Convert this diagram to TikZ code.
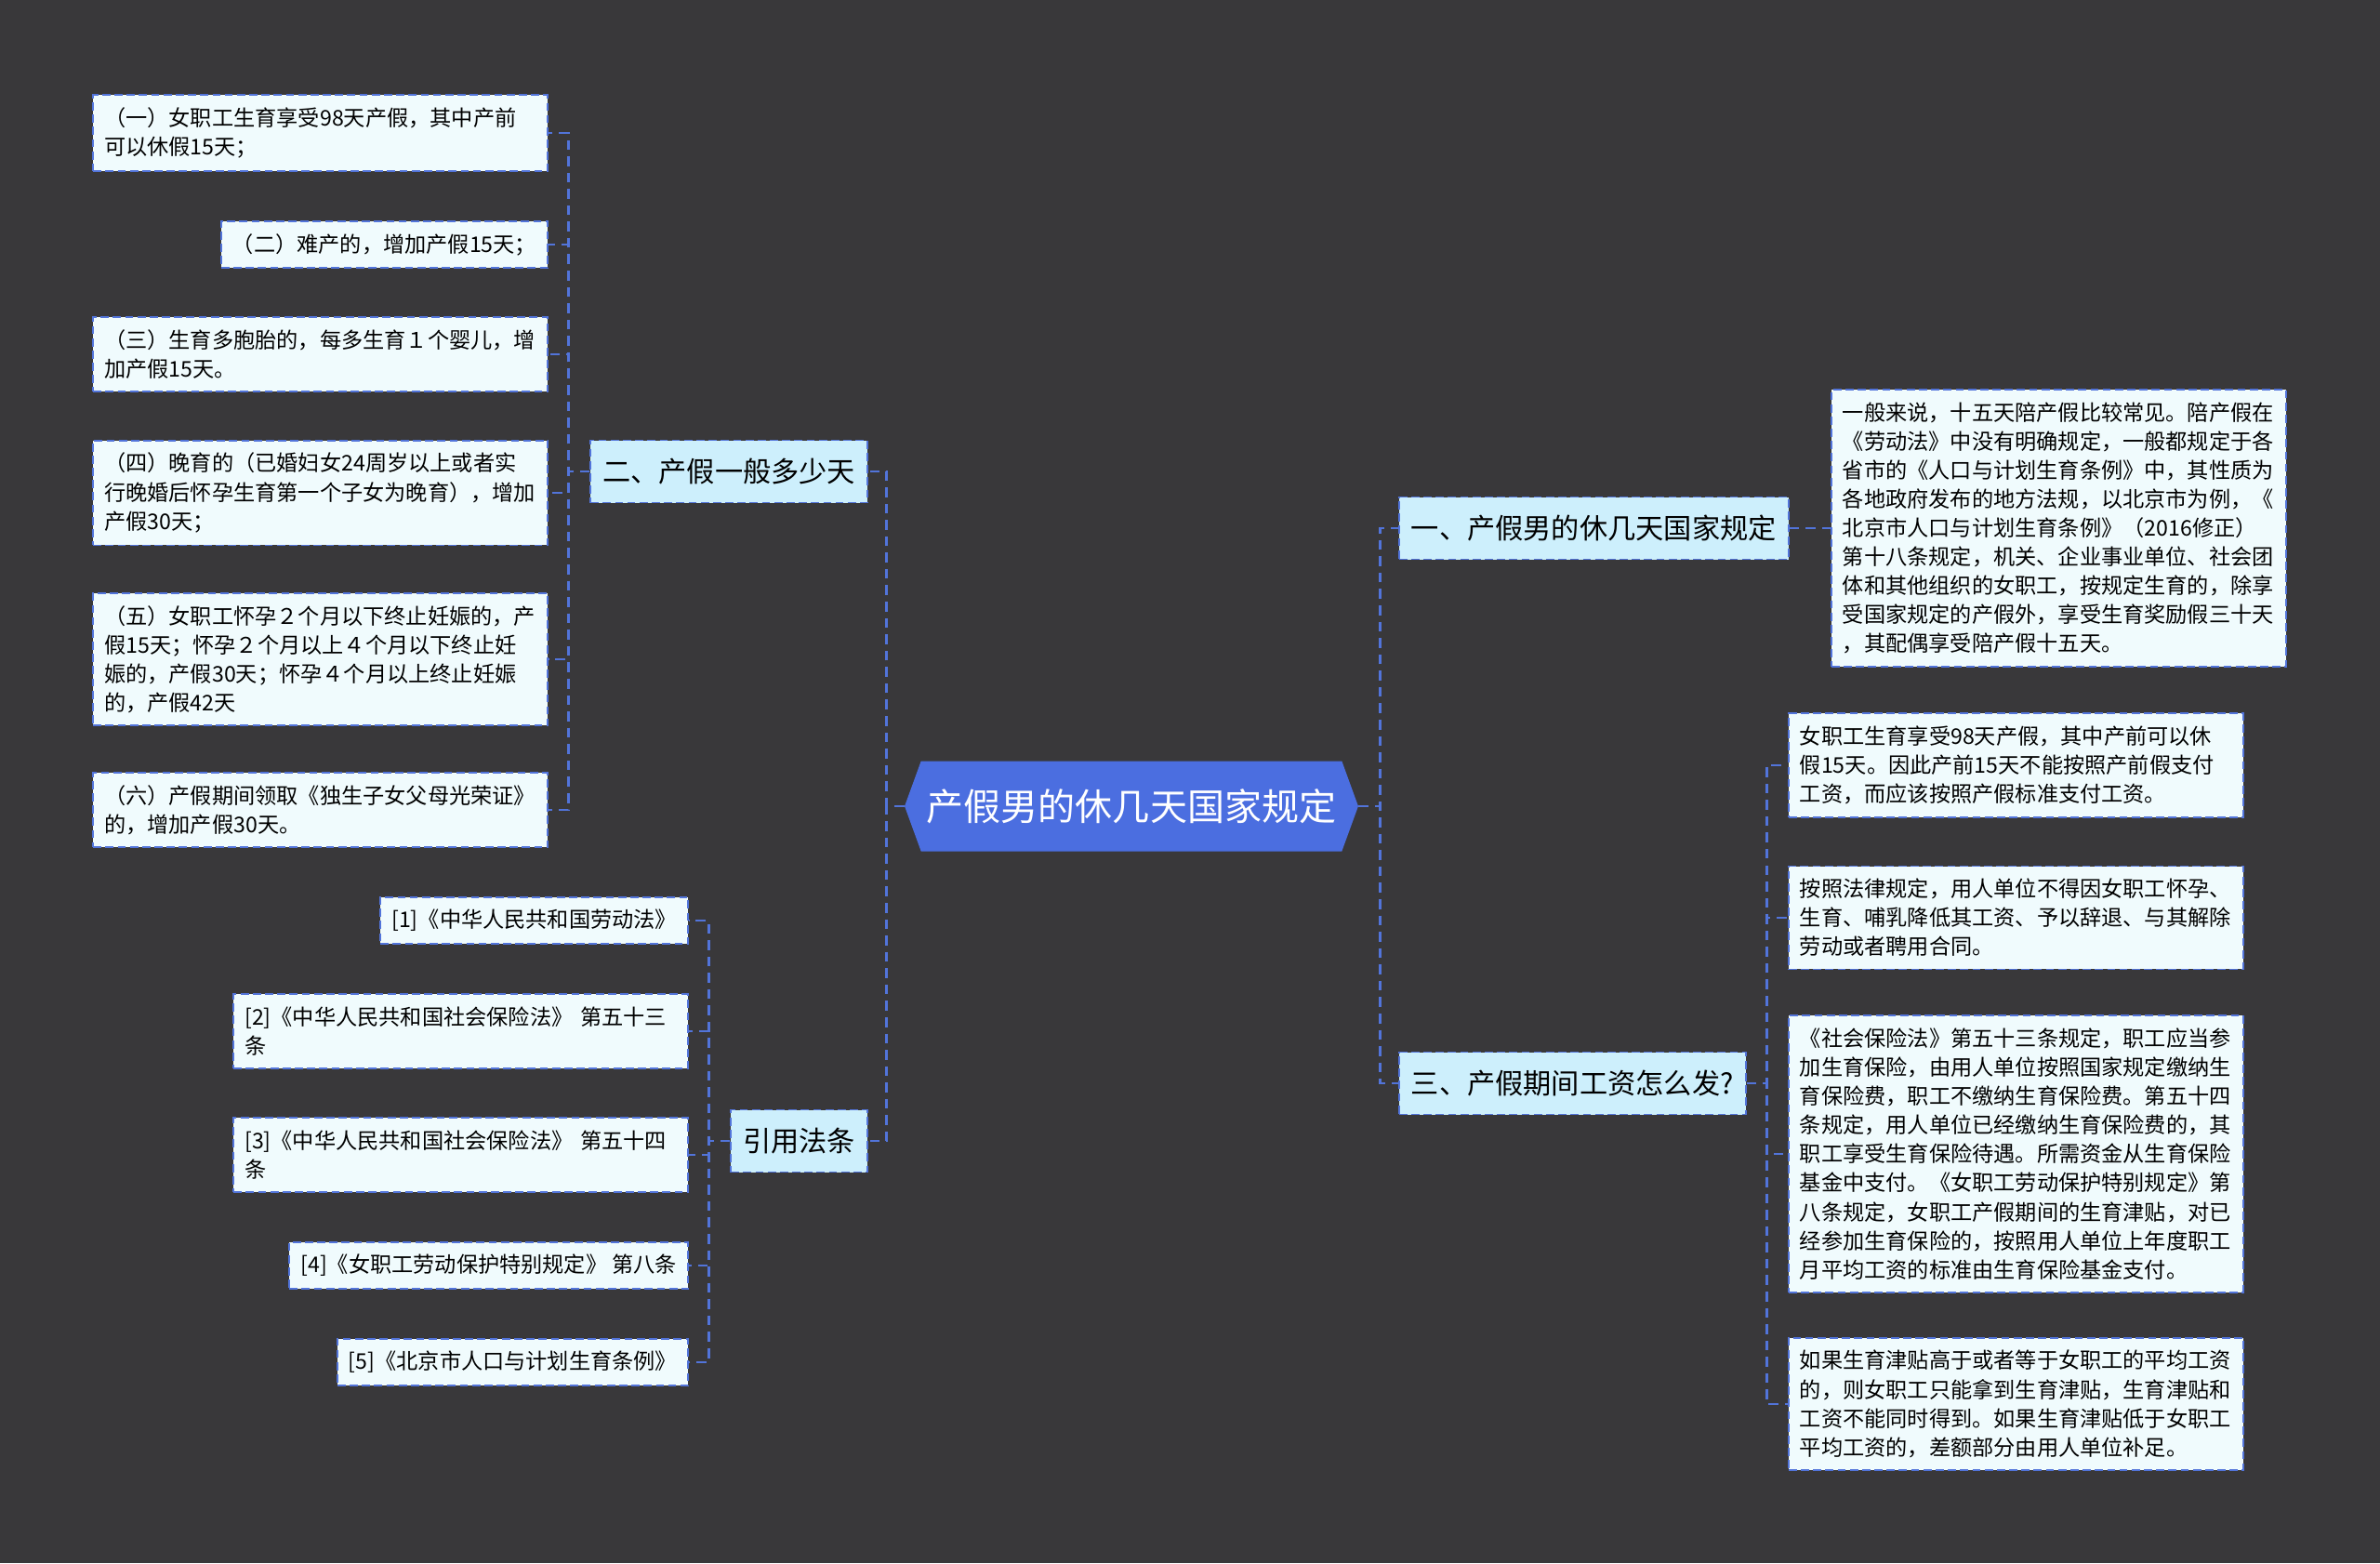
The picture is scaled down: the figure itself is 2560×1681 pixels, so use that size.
\documentclass[tikz,border=0pt]{standalone}
\usepackage{fontspec}
\setmainfont{Noto Sans CJK SC}
\usetikzlibrary{shapes.symbols}
\definecolor{Canvas}{HTML}{39383A}
\definecolor{Hub}{HTML}{4B6EE0}
\definecolor{Topic}{HTML}{CDEFFC}
\definecolor{Note}{HTML}{F0FBFD}
\definecolor{Edge}{HTML}{5274DA}

\begin{document}
\begin{tikzpicture}[x=0.02cm,y=-0.02cm,
      link/.style={draw=Edge,line width=1.4pt,dash pattern=on 6pt off 4pt},
      hub/.style={signal,signal to=west and east,signal pointer angle=140,fill=Hub,
        text=white,font=\fontsize{22.8}{26}\selectfont,minimum height=1.94cm,inner xsep=0.12cm},
      topic/.style={draw=Edge,fill=Topic,line width=1pt,dash pattern=on 5pt off 2.5pt,
        font=\fontsize{17.2}{20}\selectfont,minimum height=1.34cm,inner xsep=0.26cm},
      note/.style={draw=Edge,fill=Note,line width=1pt,dash pattern=on 5pt off 2.5pt,
        font=\fontsize{13.2}{17.7}\selectfont,align=left,inner xsep=0.24cm,inner ysep=0.27cm},
      wide/.style={note,text width=9.3cm}]
      \fill[Canvas] (0,0) rectangle (2560,1681);
      % centre and main topics
      \node[hub] (root) at (1217,867) {产假男的休几天国家规定};
      \node[topic,anchor=east] (days) at (934,507) {二、产假一般多少天};
      \node[topic,anchor=east] (laws) at (934,1227) {引用法条};
      \node[topic,anchor=west] (rule) at (1504,568) {一、产假男的休几天国家规定};
      \node[topic,anchor=west] (wage) at (1504,1165) {三、产假期间工资怎么发?};
      % how many days
      \node[wide,anchor=east] (d1) at (590,143) {（一）女职工生育享受98天产假，其中产前\\可以休假15天；};
      \node[note,anchor=east] (d2) at (590,263) {（二）难产的，增加产假15天；};
      \node[wide,anchor=east] (d3) at (590,381) {（三）生育多胞胎的，每多生育１个婴儿，增\\加产假15天。};
      \node[wide,anchor=east] (d4) at (590,530) {（四）晚育的（已婚妇女24周岁以上或者实\\行晚婚后怀孕生育第一个子女为晚育），增加\\产假30天；};
      \node[wide,anchor=east] (d5) at (590,709) {（五）女职工怀孕２个月以下终止妊娠的，产\\假15天；怀孕２个月以上４个月以下终止妊\\娠的，产假30天；怀孕４个月以上终止妊娠\\的，产假42天};
      \node[wide,anchor=east] (d6) at (590,871) {（六）产假期间领取《独生子女父母光荣证》\\的，增加产假30天。};
      % cited laws
      \node[note,anchor=east] (c1) at (741,990) {[1]《中华人民共和国劳动法》};
      \node[wide,anchor=east] (c2) at (741,1109) {[2]《中华人民共和国社会保险法》~第五十三\\条};
      \node[wide,anchor=east] (c3) at (741,1242) {[3]《中华人民共和国社会保险法》~第五十四\\条};
      \node[note,anchor=east] (c4) at (741,1361) {[4]《女职工劳动保护特别规定》~第八条};
      \node[note,anchor=east] (c5) at (741,1465) {[5]《北京市人口与计划生育条例》};
      % paternity leave rule
      \node[wide,anchor=west] (r1) at (1969,568) {一般来说，十五天陪产假比较常见。陪产假在\\《劳动法》中没有明确规定，一般都规定于各\\省市的《人口与计划生育条例》中，其性质为\\各地政府发布的地方法规，以北京市为例，《\\北京市人口与计划生育条例》（2016修正）\\第十八条规定，机关、企业事业单位、社会团\\体和其他组织的女职工，按规定生育的，除享\\受国家规定的产假外，享受生育奖励假三十天\\，其配偶享受陪产假十五天。};
      % wages during leave
      \node[wide,anchor=west] (w1) at (1923,823) {女职工生育享受98天产假，其中产前可以休\\假15天。因此产前15天不能按照产前假支付\\工资，而应该按照产假标准支付工资。};
      \node[wide,anchor=west] (w2) at (1923,987) {按照法律规定，用人单位不得因女职工怀孕、\\生育、哺乳降低其工资、予以辞退、与其解除\\劳动或者聘用合同。};
      \node[wide,anchor=west] (w3) at (1923,1241) {《社会保险法》第五十三条规定，职工应当参\\加生育保险，由用人单位按照国家规定缴纳生\\育保险费，职工不缴纳生育保险费。第五十四\\条规定，用人单位已经缴纳生育保险费的，其\\职工享受生育保险待遇。所需资金从生育保险\\基金中支付。《女职工劳动保护特别规定》第\\八条规定，女职工产假期间的生育津贴，对已\\经参加生育保险的，按照用人单位上年度职工\\月平均工资的标准由生育保险基金支付。};
      \node[wide,anchor=west] (w4) at (1923,1510) {如果生育津贴高于或者等于女职工的平均工资\\的，则女职工只能拿到生育津贴，生育津贴和\\工资不能同时得到。如果生育津贴低于女职工\\平均工资的，差额部分由用人单位补足。};
      % connectors
      \draw[link] (root.west) -- ++(-19,0) |- (days.east);
      \draw[link] (root.west) -- ++(-19,0) |- (laws.east);
      \draw[link] (root.east) -- ++(23,0) |- (rule.west);
      \draw[link] (root.east) -- ++(23,0) |- (wage.west);
      \foreach \i in {1,...,6} \draw[link] (days.west) -- ++(-23,0) |- (d\i.east);
      \foreach \i in {1,...,5} \draw[link] (laws.west) -- ++(-23,0) |- (c\i.east);
      \foreach \i in {1,...,4} \draw[link] (wage.east) -- ++(22,0) |- (w\i.west);
      \draw[link] (rule.east) -- (r1.west);
    \end{tikzpicture}
\end{document}
